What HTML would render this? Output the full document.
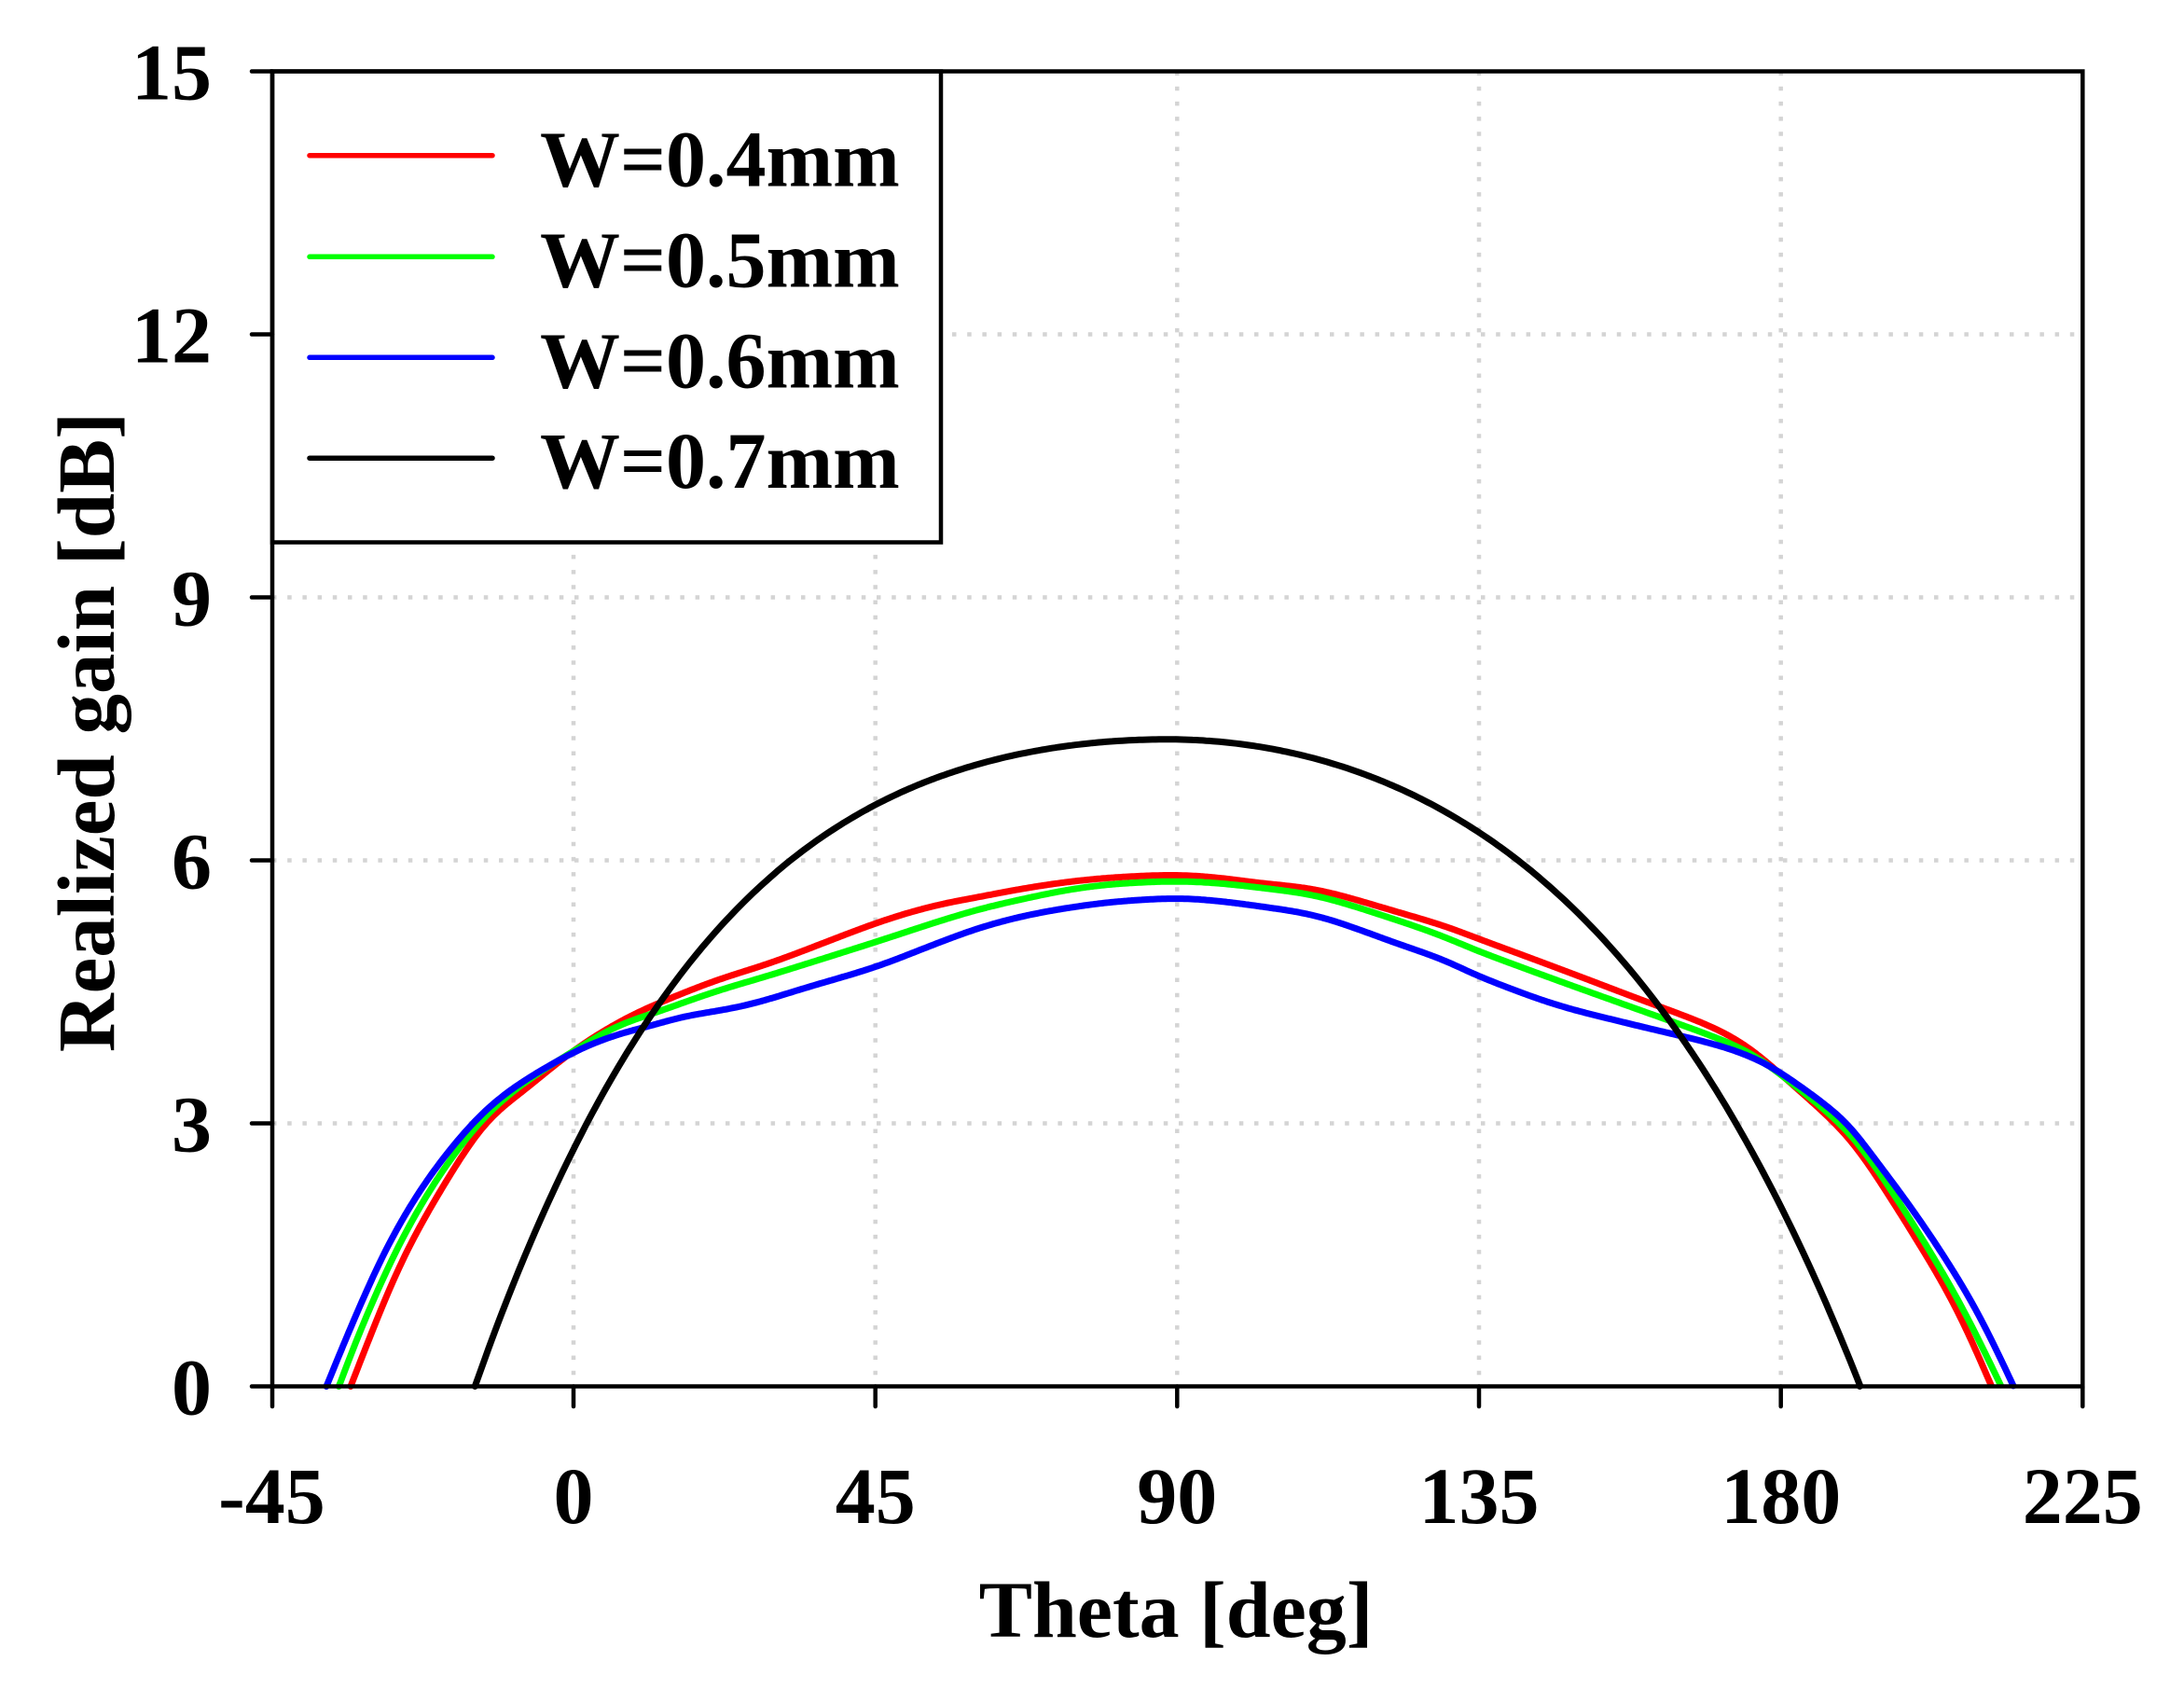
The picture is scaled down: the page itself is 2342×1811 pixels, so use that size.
<!DOCTYPE html>
<html>
<head>
<meta charset="utf-8">
<style>
  html, body { margin: 0; padding: 0; background: #ffffff; }
  svg { display: block; }
  text { font-family: "Liberation Serif", "Times New Roman", serif; font-weight: bold; fill: #000; }
</style>
</head>
<body>
<svg id="chart" width="2342" height="1811" viewBox="0 0 2342 1811" xmlns="http://www.w3.org/2000/svg">
  <rect x="0" y="0" width="2342" height="1811" fill="#ffffff"/>

  <!-- grid -->
  <g stroke="#d4d4d4" stroke-width="4.5" stroke-dasharray="4.5 11.7" fill="none">
    <line x1="615" y1="76.5" x2="615" y2="1486.5"/>
    <line x1="938.7" y1="76.5" x2="938.7" y2="1486.5"/>
    <line x1="1262.3" y1="76.5" x2="1262.3" y2="1486.5"/>
    <line x1="1586" y1="76.5" x2="1586" y2="1486.5"/>
    <line x1="1909.7" y1="76.5" x2="1909.7" y2="1486.5"/>
    <line x1="292" y1="358.5" x2="2233" y2="358.5"/>
    <line x1="292" y1="640.5" x2="2233" y2="640.5"/>
    <line x1="292" y1="922.5" x2="2233" y2="922.5"/>
    <line x1="292" y1="1204.5" x2="2233" y2="1204.5"/>
  </g>

  <!-- legend box -->
  <rect x="292" y="76.5" width="717" height="505" fill="#ffffff" stroke="#000" stroke-width="4.5"/>
  <g stroke-width="5.5" stroke-linecap="round">
    <line x1="332" y1="166.7" x2="528" y2="166.7" stroke="#ff0000"/>
    <line x1="332" y1="275.3" x2="528" y2="275.3" stroke="#00ff00"/>
    <line x1="332" y1="383.3" x2="528" y2="383.3" stroke="#0000ff"/>
    <line x1="332" y1="491.2" x2="528" y2="491.2" stroke="#000000"/>
  </g>
  <g font-size="86">
    <text x="579" y="199.6">W=0.4mm</text>
    <text x="579" y="307.6">W=0.5mm</text>
    <text x="579" y="415.5">W=0.6mm</text>
    <text x="579" y="522.9">W=0.7mm</text>
  </g>

  <!-- curves -->
  <g id="curves" fill="none" stroke-width="7" stroke-linejoin="round" stroke-linecap="round">
    <polyline class="crv" stroke="#ff0000" points="376,1486.5 396.7,1433.3 416.7,1383.3 440,1333.3 478.3,1266.7 520,1204.3 565,1166.7 615,1126.5 660,1098 700,1078.3 766.7,1051.7 833.3,1030 939,990 1000,971.7 1050,961.7 1100,952.3 1150,945 1200,940.5 1256.7,938.3 1300,940.5 1350,946.7 1416.7,955 1500,978.3 1550,993.3 1585.7,1006.7 1666.7,1036.7 1750,1068.3 1833.3,1100 1875,1123 1909.3,1151.7 1963.3,1200 1993.3,1233.3 2043.3,1310 2096.7,1400 2135.7,1486.5"/>
    <polyline class="crv" stroke="#00ff00" points="363.3,1486.5 383.3,1433.3 405,1383.3 428.3,1333.3 466.7,1266.7 513.3,1204.3 558,1164 615,1127 660,1101 710,1083.3 766.7,1063.3 833.3,1043.3 939,1010 1000,990 1050,975 1100,963.3 1150,953.3 1200,947.5 1256.7,945 1300,946.5 1350,951.7 1416.7,961.7 1500,987.3 1550,1005 1585.7,1020 1666.7,1050 1750,1080 1833.3,1110 1875,1128 1909.3,1152 1968.3,1200 1998.3,1233.3 2050,1310 2103.3,1400 2146,1486.5"/>
    <polyline class="crv" stroke="#0000ff" points="350,1486.5 371.7,1433.3 393.3,1383.3 416.7,1333.3 456.7,1266.7 506.7,1204.3 550,1166.7 615,1128.3 660,1110 700,1099.3 733.3,1090 800,1078 866.7,1058.3 939,1036.7 1000,1013.3 1050,995 1100,981.7 1150,972.7 1200,966.5 1260,963.3 1300,965.5 1350,971.7 1416.7,983.3 1500,1012.3 1550,1030 1585.7,1046.7 1666.7,1076.7 1750,1098.3 1833.3,1118.3 1875,1132 1909.3,1150 1976.7,1200 2003.3,1233.3 2060,1310 2117,1400 2159.3,1486.5"/>
    <polyline id="blk" stroke="#000000" points="509.3,1486.5 530,1433.3 570,1335 615,1240 665,1150 700,1096.7 766.7,1006.7 850,922.3 939,863.3 1016.7,826.7 1100,806.7 1150,800 1200,795 1250,792.7 1300,793.5 1350,797 1400,806 1466.7,825 1500,836.7 1550,861.7 1585.7,883.3 1666.7,946.7 1733.3,1016.7 1800,1106.7 1866,1204 1909.5,1285 1956.7,1400 1994.3,1486.5"/>
  </g>

  <!-- frame -->
  <rect x="292" y="76.5" width="1941.3" height="1410" fill="none" stroke="#000" stroke-width="4.5"/>

  <!-- ticks -->
  <g stroke="#000" stroke-width="4.5" stroke-linecap="round">
    <line x1="270" y1="76.5" x2="292" y2="76.5"/>
    <line x1="270" y1="358.5" x2="292" y2="358.5"/>
    <line x1="270" y1="640.5" x2="292" y2="640.5"/>
    <line x1="270" y1="922.5" x2="292" y2="922.5"/>
    <line x1="270" y1="1204.5" x2="292" y2="1204.5"/>
    <line x1="270" y1="1486.5" x2="292" y2="1486.5"/>
    <line x1="292" y1="1486.5" x2="292" y2="1508"/>
    <line x1="615" y1="1486.5" x2="615" y2="1508"/>
    <line x1="938.7" y1="1486.5" x2="938.7" y2="1508"/>
    <line x1="1262.3" y1="1486.5" x2="1262.3" y2="1508"/>
    <line x1="1586" y1="1486.5" x2="1586" y2="1508"/>
    <line x1="1909.7" y1="1486.5" x2="1909.7" y2="1508"/>
    <line x1="2233.3" y1="1486.5" x2="2233.3" y2="1508"/>
  </g>

  <!-- y tick labels -->
  <g font-size="86" text-anchor="end">
    <text x="227" y="106.5">15</text>
    <text x="227" y="388.5">12</text>
    <text x="227" y="670.5">9</text>
    <text x="227" y="952.5">6</text>
    <text x="227" y="1234.5">3</text>
    <text x="227" y="1516.5">0</text>
  </g>

  <!-- x tick labels -->
  <g font-size="86" text-anchor="middle">
    <text x="291.5" y="1633">-45</text>
    <text x="615" y="1633">0</text>
    <text x="938.7" y="1633">45</text>
    <text x="1262.3" y="1633">90</text>
    <text x="1586" y="1633">135</text>
    <text x="1909.7" y="1633">180</text>
    <text x="2233.3" y="1633">225</text>
  </g>

  <!-- axis titles -->
  <text x="1261" y="1755" font-size="86" text-anchor="middle">Theta [deg]</text>
  <text transform="translate(122,785) rotate(-90)" font-size="87" text-anchor="middle">Realized gain [dB]</text>
</svg>
<script>
(function(){
  var NS = "http://www.w3.org/2000/svg";
  function parse(pl){
    return pl.getAttribute("points").trim().split(/\s+/).map(function(s){
      var a = s.split(","); return [parseFloat(a[0]), parseFloat(a[1])];
    });
  }
  function dense(p){
    var out = [];
    for (var i = 0; i < p.length - 1; i++) {
      var p0 = p[i-1] || p[i], p1 = p[i], p2 = p[i+1], p3 = p[i+2] || p[i+1];
      for (var s = 0; s < 20; s++) {
        var t = s / 20, t2 = t*t, t3 = t2*t;
        var x = 0.5*(2*p1[0] + (-p0[0]+p2[0])*t + (2*p0[0]-5*p1[0]+4*p2[0]-p3[0])*t2 + (-p0[0]+3*p1[0]-3*p2[0]+p3[0])*t3);
        var y = 0.5*(2*p1[1] + (-p0[1]+p2[1])*t + (2*p0[1]-5*p1[1]+4*p2[1]-p3[1])*t2 + (-p0[1]+3*p1[1]-3*p2[1]+p3[1])*t3);
        out.push([x,y]);
      }
    }
    out.push(p[p.length-1]);
    return out;
  }
  function smoothPath(p){
    var d = dense(p);
    var x0 = p[0][0], x1 = p[p.length-1][0];
    var xs = [], ys = [];
    var j = 0;
    for (var x = x0; x <= x1 + 0.001; x += 1) {
      while (j < d.length - 2 && d[j+1][0] < x) j++;
      var a = d[j], b = d[j+1];
      var f = (b[0] - a[0]) !== 0 ? (x - a[0]) / (b[0] - a[0]) : 0;
      if (f < 0) f = 0; if (f > 1) f = 1;
      xs.push(x); ys.push(a[1] + f*(b[1]-a[1]));
    }
    var n = ys.length, sig = 14, R = 42;
    var sL = (ys[6] - ys[0]) / 6, sR = (ys[n-1] - ys[n-7]) / 6;
    function yAt(k){
      if (k < 0) return ys[0] + sL*k;
      if (k >= n) return ys[n-1] + sR*(k-n+1);
      return ys[k];
    }
    var w = [], ws = 0;
    for (var k = -R; k <= R; k++) { var v = Math.exp(-k*k/(2*sig*sig)); w.push(v); ws += v; }
    var sm = [];
    for (var i = 0; i < n; i++) {
      var acc = 0;
      for (var k = -R; k <= R; k++) acc += w[k+R] * yAt(i+k);
      sm.push(acc / ws);
    }
    sm[0] = ys[0]; sm[n-1] = ys[n-1];
    var str = "M" + xs[0].toFixed(1) + "," + sm[0].toFixed(1);
    for (var i = 1; i < n; i++) {
      if (i % 2 === 0 || i === n-1) str += " L" + xs[i].toFixed(1) + "," + sm[i].toFixed(1);
    }
    return str;
  }
  var lines = document.querySelectorAll("polyline.crv");
  for (var k = 0; k < lines.length; k++) {
    var pl = lines[k];
    var path = document.createElementNS(NS, "path");
    path.setAttribute("d", smoothPath(parse(pl)));
    path.setAttribute("stroke", pl.getAttribute("stroke"));
    pl.parentNode.replaceChild(path, pl);
  }
  // black curve from fitted model
  var blk = document.getElementById("blk");
  var dstr = "";
  for (var th = -14.7; th <= 191.81; th += 0.5) {
    var D = th - 88.5, v;
    if (D < 0) v = 7.38 - (3.3e-4*D*D + 3.41e-8*D*D*D*D);
    else v = 7.38 - (4.4e-4*D*D + 2.35e-8*D*D*D*D);
    if (v < 0) v = 0;
    var X = 615 + 7.193*th, Y = 1486.5 - 94*v;
    dstr += (dstr ? " L" : "M") + X.toFixed(1) + "," + Y.toFixed(1);
  }
  dstr += " L1994.3,1486.5";
  var bp = document.createElementNS(NS, "path");
  bp.setAttribute("d", dstr);
  bp.setAttribute("stroke", "#000000");
  blk.parentNode.replaceChild(bp, blk);
})();
</script>
</body>
</html>
